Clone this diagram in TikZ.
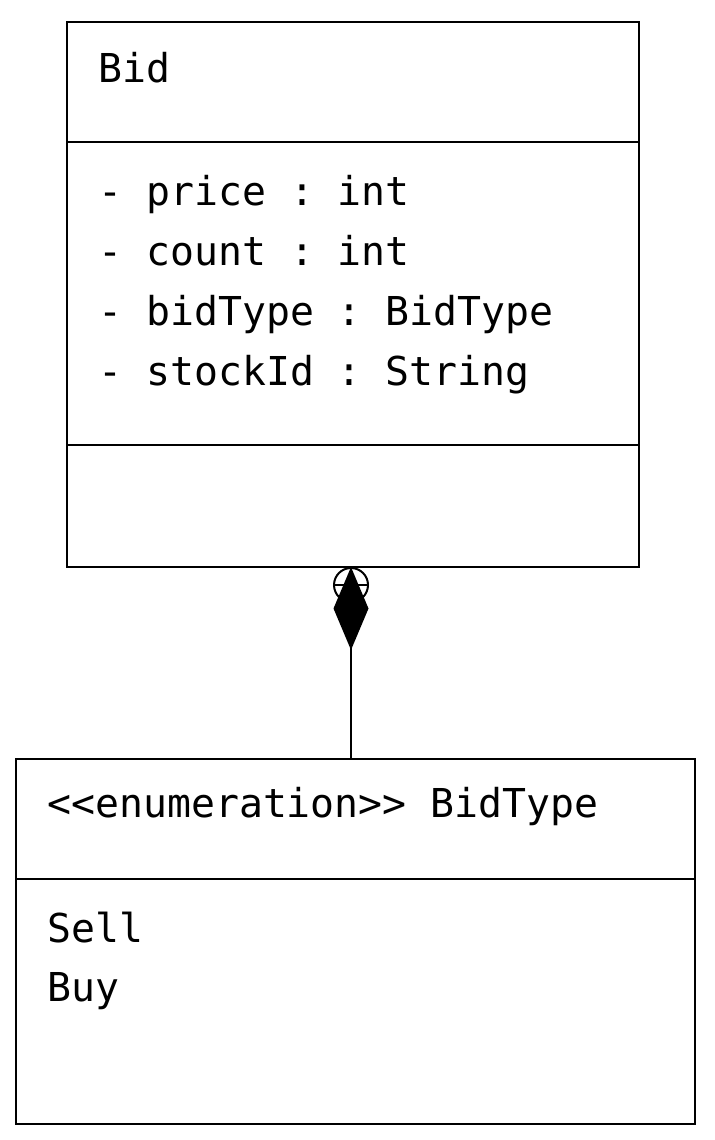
\documentclass[tikz,border=0pt]{standalone}
\usepackage{fontspec}
\setmonofont{DejaVu Sans Mono}
\usetikzlibrary{arrows.meta,positioning}

\begin{document}
\begin{tikzpicture}[x=0.5pt,y=-0.5pt,
    compart/.style={draw,line width=1pt,rectangle,outer sep=0pt,inner sep=0pt,anchor=north west},
    member/.style={anchor=base west,inner sep=0pt,font=\ttfamily\fontsize{19.9}{24}\selectfont},
    >=Stealth]
    \useasboundingbox (0,0) rectangle (714,1140);
    % class Bid
    \node[compart,minimum width=286pt,minimum height=60pt] (bidhead) at (67,22) {};
    \node[compart,minimum width=286pt,minimum height=151.5pt] (bidattrs) at (bidhead.south west) {};
    \node[compart,minimum width=286pt,minimum height=61pt] (bidops) at (bidattrs.south west) {};
    \node[member] (bidname) at (98,82) {Bid};
    \node[member] (price) at (98,205) {- price : int};
    \node[member] (count) at (98,265) {- count : int};
    \node[member] (bidtype) at (98,325) {- bidType : BidType};
    \node[member] (stockid) at (98,385) {- stockId : String};
    % enum BidType
    \node[compart,minimum width=339.5pt,minimum height=60pt] (enumhead) at (16,759) {};
    \node[compart,minimum width=339.5pt,minimum height=122.5pt] (enumvals) at (enumhead.south west) {};
    \node[member] (enumname) at (47,817) {<{}<enumeration>{}> BidType};
    \node[member] (sell) at (47,942) {Sell};
    \node[member] (buy) at (47,1001) {Buy};
    % nesting + composition
    \coordinate (joint) at (351,567);
    \node[circle,draw,line width=1pt,minimum size=17pt,inner sep=0pt,anchor=north] (nest) at (joint) {};
    \draw[line width=1pt] (nest.west) -- (nest.east);
    \draw[line width=1pt] (nest.north) -- (nest.south);
    \draw[line width=1pt,-{Diamond[length=41.5pt,width=17.5pt]}] (joint |- enumhead.north) -- (joint);
\end{tikzpicture}
\end{document}
